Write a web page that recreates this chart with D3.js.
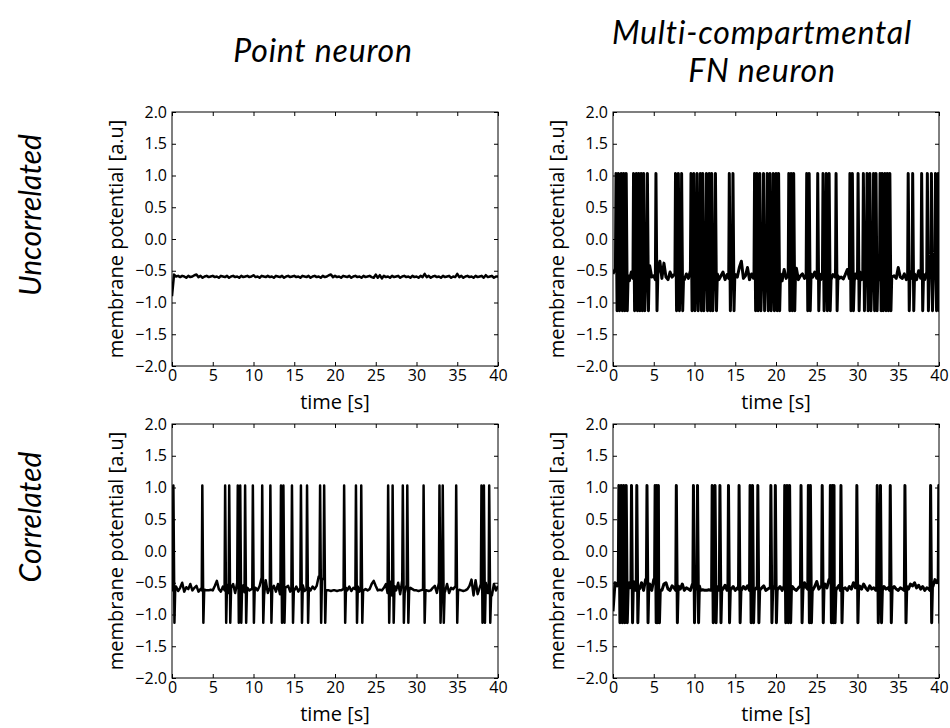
<!DOCTYPE html>
<html>
<head>
<meta charset="utf-8">
<script src="https://cdn.jsdelivr.net/npm/d3@7"></script>
<style>
  body { margin: 0; background: #fff; }
  svg text { fill: #000; }
</style>
</head>
<body>
<svg id="chart" width="950" height="728"></svg>
<script>

var timeTicks = [0, 5, 10, 15, 20, 25, 30, 35, 40];
var potentialTicks = [-2, -1.5, -1, -0.5, 0, 0.5, 1, 1.5, 2];
var columnTitles = [["Point neuron"], ["Multi-compartmental", "FN neuron"]];
var rowTitles = ["Uncorrelated", "Correlated"];
var xLabel = "time [s]";
var yLabel = "membrane potential [a.u]";

// resting trace, one value every quarter second from 0 to 40 s (20 values per row = 5 s)
var sampleStep = 0.25;

var baseUncorrPoint = [
  -0.90, -0.56, -0.59, -0.58, -0.60, -0.58, -0.59, -0.61, -0.58, -0.60, -0.59, -0.57, -0.56, -0.60, -0.58, -0.61, -0.59, -0.58, -0.60, -0.59,
  -0.58, -0.60, -0.59, -0.61, -0.58, -0.59, -0.60, -0.58, -0.61, -0.59, -0.58, -0.60, -0.59, -0.61, -0.58, -0.60, -0.59, -0.58, -0.60, -0.59,
  -0.57, -0.60, -0.59, -0.61, -0.58, -0.59, -0.60, -0.58, -0.60, -0.59, -0.61, -0.58, -0.59, -0.60, -0.58, -0.61, -0.59, -0.58, -0.60, -0.59,
  -0.58, -0.60, -0.59, -0.61, -0.58, -0.59, -0.60, -0.58, -0.61, -0.59, -0.58, -0.60, -0.59, -0.61, -0.58, -0.60, -0.59, -0.57, -0.56, -0.60,
  -0.58, -0.60, -0.59, -0.61, -0.58, -0.59, -0.60, -0.58, -0.61, -0.59, -0.58, -0.60, -0.59, -0.61, -0.58, -0.60, -0.59, -0.58, -0.60, -0.61,
  -0.56, -0.61, -0.57, -0.62, -0.58, -0.60, -0.59, -0.61, -0.58, -0.60, -0.59, -0.58, -0.61, -0.59, -0.58, -0.60, -0.59, -0.61, -0.58, -0.60,
  -0.59, -0.61, -0.58, -0.60, -0.55, -0.60, -0.58, -0.61, -0.59, -0.58, -0.60, -0.59, -0.61, -0.58, -0.60, -0.59, -0.58, -0.61, -0.59, -0.60,
  -0.55, -0.60, -0.58, -0.61, -0.59, -0.58, -0.60, -0.59, -0.61, -0.58, -0.60, -0.59, -0.58, -0.61, -0.57, -0.60, -0.59, -0.58, -0.61, -0.59,
  -0.59
];

var baseUncorrMulti = [
  -0.55, -0.48, -0.62, -0.50, -0.45, -0.32, -0.30, -0.58, -0.66, -0.52, -0.62, -0.48, -0.64, -0.55, -0.60, -0.50, -0.66, -0.55, -0.42, -0.60,
  -0.58, -0.64, -0.55, -0.35, -0.62, -0.38, -0.60, -0.64, -0.52, -0.60, -0.56, -0.64, -0.50, -0.62, -0.58, -0.64, -0.55, -0.62, -0.50, -0.64,
  -0.55, -0.62, -0.50, -0.64, -0.56, -0.60, -0.52, -0.64, -0.55, -0.60, -0.62, -0.55, -0.64, -0.58, -0.52, -0.64, -0.56, -0.62, -0.58, -0.65,
  -0.56, -0.60, -0.45, -0.35, -0.62, -0.58, -0.45, -0.64, -0.55, -0.62, -0.52, -0.64, -0.50, -0.62, -0.55, -0.66, -0.48, -0.62, -0.55, -0.64,
  -0.50, -0.62, -0.55, -0.66, -0.48, -0.62, -0.56, -0.64, -0.50, -0.62, -0.46, -0.64, -0.58, -0.55, -0.62, -0.58, -0.64, -0.55, -0.60, -0.52,
  -0.62, -0.55, -0.64, -0.58, -0.50, -0.62, -0.55, -0.64, -0.56, -0.60, -0.58, -0.62, -0.60, -0.63, -0.56, -0.48, -0.62, -0.50, -0.66, -0.55,
  -0.62, -0.52, -0.64, -0.55, -0.48, -0.62, -0.58, -0.64, -0.52, -0.62, -0.56, -0.64, -0.50, -0.62, -0.56, -0.64, -0.55, -0.60, -0.58, -0.62,
  -0.45, -0.60, -0.62, -0.55, -0.64, -0.58, -0.52, -0.62, -0.55, -0.64, -0.50, -0.62, -0.56, -0.64, -0.52, -0.62, -0.55, -0.64, -0.48, -0.60,
  -0.35
];

var baseCorrPoint = [
  -0.62, -0.60, -0.56, -0.63, -0.58, -0.50, -0.64, -0.57, -0.60, -0.52, -0.62, -0.58, -0.55, -0.64, -0.60, -0.62, -0.61, -0.62, -0.62, -0.61,
  -0.62, -0.55, -0.47, -0.60, -0.64, -0.56, -0.62, -0.53, -0.66, -0.58, -0.52, -0.66, -0.50, -0.68, -0.56, -0.54, -0.65, -0.58, -0.62, -0.60,
  -0.60, -0.58, -0.62, -0.55, -0.42, -0.70, -0.46, -0.66, -0.58, -0.60, -0.55, -0.64, -0.52, -0.68, -0.50, -0.62, -0.57, -0.55, -0.64, -0.58,
  -0.62, -0.56, -0.64, -0.58, -0.54, -0.63, -0.60, -0.58, -0.62, -0.56, -0.60, -0.55, -0.40, -0.74, -0.44, -0.70, -0.62, -0.62, -0.63, -0.62,
  -0.62, -0.63, -0.62, -0.62, -0.60, -0.58, -0.62, -0.56, -0.63, -0.58, -0.60, -0.56, -0.64, -0.59, -0.62, -0.60, -0.62, -0.60, -0.52, -0.47,
  -0.55, -0.62, -0.61, -0.62, -0.58, -0.52, -0.66, -0.48, -0.70, -0.55, -0.62, -0.50, -0.68, -0.46, -0.66, -0.55, -0.62, -0.58, -0.60, -0.62,
  -0.62, -0.63, -0.62, -0.61, -0.62, -0.62, -0.63, -0.62, -0.58, -0.55, -0.66, -0.50, -0.70, -0.54, -0.64, -0.52, -0.66, -0.58, -0.60, -0.56,
  -0.62, -0.61, -0.62, -0.63, -0.62, -0.60, -0.55, -0.45, -0.70, -0.46, -0.68, -0.58, -0.52, -0.68, -0.50, -0.66, -0.48, -0.70, -0.52, -0.62,
  -0.55
];

var baseCorrMulti = [
  -0.95, -0.50, -0.55, -0.48, -0.60, -0.52, -0.45, -0.62, -0.50, -0.58, -0.48, -0.62, -0.55, -0.60, -0.50, -0.62, -0.45, -0.58, -0.52, -0.62,
  -0.45, -0.58, -0.52, -0.62, -0.62, -0.52, -0.50, -0.60, -0.62, -0.55, -0.58, -0.62, -0.55, -0.60, -0.52, -0.62, -0.58, -0.60, -0.62, -0.52,
  -0.48, -0.60, -0.55, -0.62, -0.61, -0.62, -0.62, -0.61, -0.62, -0.55, -0.60, -0.56, -0.62, -0.58, -0.60, -0.54, -0.62, -0.58, -0.60, -0.56,
  -0.62, -0.58, -0.60, -0.62, -0.56, -0.60, -0.55, -0.62, -0.58, -0.61, -0.60, -0.56, -0.62, -0.58, -0.55, -0.62, -0.60, -0.58, -0.62, -0.56,
  -0.52, -0.60, -0.56, -0.62, -0.55, -0.60, -0.58, -0.62, -0.56, -0.60, -0.62, -0.58, -0.55, -0.62, -0.50, -0.58, -0.60, -0.55, -0.62, -0.56,
  -0.48, -0.60, -0.56, -0.62, -0.52, -0.58, -0.45, -0.60, -0.55, -0.62, -0.58, -0.54, -0.62, -0.60, -0.58, -0.62, -0.56, -0.60, -0.50, -0.58,
  -0.62, -0.55, -0.60, -0.52, -0.58, -0.62, -0.55, -0.60, -0.58, -0.62, -0.52, -0.58, -0.62, -0.56, -0.60, -0.58, -0.62, -0.60, -0.56, -0.60,
  -0.62, -0.58, -0.60, -0.62, -0.56, -0.60, -0.52, -0.55, -0.50, -0.58, -0.54, -0.60, -0.56, -0.62, -0.58, -0.60, -0.62, -0.56, -0.45, -0.50,
  -0.48
];

// spike onset times, seconds
var spikesUncorrPoint = [];

var spikesUncorrMulti = [
  0.3, 0.6, 0.95, 1.25, 1.55,
  2.45, 2.8, 3.1, 3.4, 3.7, 4.15,
  5.2,
  7.6, 7.95, 8.35,
  9.5, 9.85, 10.25, 10.65, 10.95, 11.4, 11.75, 12.05, 12.5,
  14.2, 14.65,
  17.3, 17.6, 17.95, 18.4, 18.85, 19.2, 19.6, 19.95, 20.25, 21.5, 21.8, 22.1,
  23.7, 24.0,
  25.05, 25.7, 26.1, 26.45, 27.3,
  29.0, 29.3, 30.0, 30.65, 31.1, 31.45, 31.9, 32.2, 32.7, 32.95, 33.3, 33.6, 33.9,
  36.15, 36.7, 37.8, 38.5, 39.0, 39.5, 39.85
];

var spikesCorrPoint = [
  0.1, 3.65, 6.45, 6.95, 8.0, 8.3, 8.9, 9.85, 11.0, 12.0,
  13.3, 13.6, 14.65, 15.75, 16.5, 18.1, 18.6, 21.05, 22.5, 23.15,
  26.45, 27.0, 28.25, 28.8, 30.8, 32.75, 33.15, 34.8, 37.9, 38.2,
  38.85
];

var spikesCorrMulti = [
  0.65, 0.95, 1.25, 1.55, 2.2, 2.85, 4.1, 5.1, 5.3, 5.5,
  7.7, 9.8, 10.3, 12.1, 12.45, 13.05, 14.1, 15.4, 16.75, 17.05,
  17.7, 19.3, 19.85, 21.0, 21.3, 21.6, 23.0, 23.9, 24.15, 25.6,
  26.6, 26.85, 27.05, 27.9, 29.85, 32.35, 32.75, 33.95, 35.75, 38.9,
  39.9
];

// shape of one spike: [offset after onset in s, value]; null = resting value
var spikeShape = [[0, null], [0.07, 1.03], [0.2, -1.13], [0.3, null]];
var spikeLength = 0.3;

var panels = [
  { row: 0, col: 0, base: baseUncorrPoint, spikes: spikesUncorrPoint },
  { row: 0, col: 1, base: baseUncorrMulti, spikes: spikesUncorrMulti },
  { row: 1, col: 0, base: baseCorrPoint, spikes: spikesCorrPoint },
  { row: 1, col: 1, base: baseCorrMulti, spikes: spikesCorrMulti }
];

var plotWidth = 326,
    plotHeight = 254,
    colLeft = [172, 613],
    rowTop = [112, 424],
    traceWidth = [2.5, 3];

var axisFont = "Open Sans",
    titleFont = "Lato";

var svg = d3.select('#chart');

var x = d3.scaleLinear().domain([0, 40]).range([0, plotWidth]);
var y = d3.scaleLinear().domain([-2, 2]).range([plotHeight, 0]);

var line = d3.line()
  .x(function(d) { return x(d[0]); })
  .y(function(d) { return y(d[1]); });


/* ======================================
 * Merge the resting samples with the spike shapes,
 * returns [[t, v], ...] sorted by time
 */
function buildTrace(base, spikes) {

  var points = base.map(function(v, i) { return [i * sampleStep, v]; });

  var restAt = function(t) {
    var i = Math.max(0, Math.min(base.length - 1, Math.round(t / sampleStep)));
    return base[i];
  };

  // drop resting samples that fall inside a spike
  points = points.filter(function(p) {
    return !spikes.some(function(s) {
      return p[0] > s - 0.001 && p[0] < s + spikeLength + 0.001;
    });
  });

  spikes.forEach(function(s) {
    spikeShape.forEach(function(sh) {
      var t = s + sh[0];
      points.push([t, sh[1] === null ? restAt(t) : sh[1]]);
    });
  });

  points.sort(function(a, b) { return a[0] - b[0]; });
  return points;

}


/* ======================================
 * One subplot: frame, inward ticks on all four sides, labels, trace
 */
function drawPanel(p, i) {

  var g = svg.append('g')
    .attr('transform', 'translate(' + colLeft[p.col] + ',' + rowTop[p.row] + ')');

  g.append('clipPath')
    .attr('id', 'clip' + i)
    .append('rect')
    .attr('width', plotWidth)
    .attr('height', plotHeight);

  g.append('path')
    .datum(buildTrace(p.base, p.spikes))
    .attr('clip-path', 'url(#clip' + i + ')')
    .attr('fill', 'none')
    .attr('stroke', '#000')
    .attr('stroke-width', traceWidth[p.col])
    .attr('stroke-linejoin', 'round')
    .attr('d', line);

  g.append('g')
    .attr('transform', 'translate(0,' + plotHeight + ')')
    .call(d3.axisBottom(x).tickValues(timeTicks).tickFormat(d3.format('d'))
      .tickSize(-4).tickPadding(4));

  g.append('g')
    .call(d3.axisLeft(y).tickValues(potentialTicks).tickFormat(d3.format('.1f'))
      .tickSize(-4).tickPadding(5));

  g.append('g')
    .call(d3.axisTop(x).tickValues(timeTicks).tickFormat('').tickSize(-4));

  g.append('g')
    .attr('transform', 'translate(' + plotWidth + ',0)')
    .call(d3.axisRight(y).tickValues(potentialTicks).tickFormat('').tickSize(-4));

  g.selectAll('.domain').remove();
  g.selectAll('.tick line').attr('stroke', '#000');
  g.selectAll('.tick text')
    .attr('fill', '#000')
    .style('font-family', axisFont)
    .style('font-size', '16px');

  g.append('rect')
    .attr('width', plotWidth)
    .attr('height', plotHeight)
    .attr('fill', 'none')
    .attr('stroke', '#000')
    .attr('stroke-width', 1);

  g.append('text')
    .attr('x', plotWidth / 2)
    .attr('y', plotHeight + 43)
    .attr('text-anchor', 'middle')
    .style('font-family', axisFont)
    .style('font-size', '20px')
    .text(xLabel);

  g.append('text')
    .attr('transform', 'translate(-49,' + (plotHeight / 2) + ') rotate(-90)')
    .attr('text-anchor', 'middle')
    .style('font-family', axisFont)
    .style('font-size', '20px')
    .text(yLabel);

}

panels.forEach(drawPanel);

// column headings
var titleX = [323, 762],
    titleY = [[62], [44, 82]];

columnTitles.forEach(function(lines, c) {
  lines.forEach(function(txt, k) {
    svg.append('text')
      .attr('x', titleX[c])
      .attr('y', titleY[c][k])
      .attr('text-anchor', 'middle')
      .style('font-family', titleFont)
      .style('font-style', 'italic')
      .style('font-size', '32px')
      .style('letter-spacing', '0.8px')
      .text(txt);
  });
});

// row headings
var rowLabelY = [215, 517];

rowTitles.forEach(function(txt, r) {
  svg.append('text')
    .attr('transform', 'translate(41,' + rowLabelY[r] + ') rotate(-90)')
    .attr('text-anchor', 'middle')
    .style('font-family', titleFont)
    .style('font-style', 'italic')
    .style('font-size', '30px')
    .text(txt);
});

</script>
</body>
</html>
